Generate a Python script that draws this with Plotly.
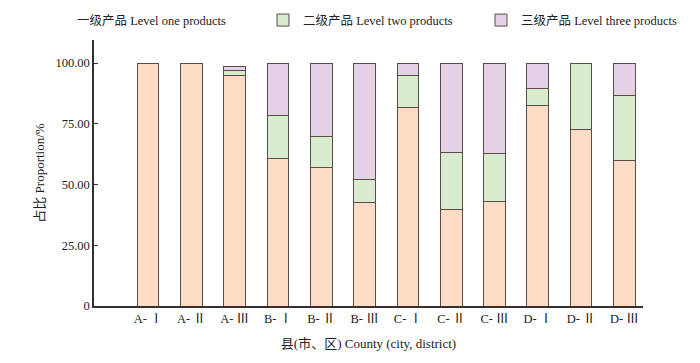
import plotly.graph_objects as go

categories = ["A- Ⅰ", "A- Ⅱ", "A- Ⅲ", "B- Ⅰ", "B- Ⅱ", "B- Ⅲ",
              "C- Ⅰ", "C- Ⅱ", "C- Ⅲ", "D- Ⅰ", "D- Ⅱ", "D- Ⅲ"]
level_one = [100, 100, 94.7, 60.8, 56.9, 42.8, 81.6, 39.8, 42.9, 82.7, 72.7, 59.8]
level_two = [0, 0, 2.4, 17.8, 12.8, 9.1, 13.1, 23.3, 19.9, 7.0, 27.3, 26.9]
level_three = [0, 0, 1.5, 21.4, 30.3, 48.1, 5.3, 36.9, 37.2, 10.3, 0, 13.3]

series_names = ["一级产品 Level one products", "二级产品 Level two products", "三级产品 Level three products"]
tick_vals = [0, 25, 50, 75, 100]
tick_text = ["0", "25.00", "50.00", "75.00", "100.00"]

font_family = "Liberation Serif, Noto Sans CJK SC, serif"
edge = "#5b4c47"
colors = ["#fddcc6", "#d9ebcf", "#e3d2e5"]
legend_ids = ["legend", "legend2", "legend3"]

fig = go.Figure()

# legend-only entry for level one (no visible swatch, as in the reference)
fig.add_trace(go.Bar(
    x=[categories[0]], y=[None], name=series_names[0],
    marker=dict(color="rgba(0,0,0,0)", line=dict(width=0)),
    showlegend=True, legend="legend",
))

values = [level_one, level_two, level_three]
for i, (name, vals) in enumerate(zip(series_names, values)):
    fig.add_trace(go.Bar(
        x=categories, y=[v if v else None for v in vals], name=name,
        marker=dict(color=colors[i], line=dict(color=edge, width=1.0)),
        width=0.5,
        showlegend=(i != 0), legend=legend_ids[i],
    ))

leg_common = dict(orientation="h", xref="container", yref="container",
                  xanchor="left", y=0.985, yanchor="top",
                  font=dict(size=12.5), itemwidth=30, bgcolor="rgba(0,0,0,0)")

fig.update_layout(
    barmode="stack",
    width=700, height=363,
    margin=dict(l=94, r=57, t=40, b=57, autoexpand=False),
    paper_bgcolor="white", plot_bgcolor="white",
    font=dict(family=font_family, size=12, color="#222"),
    legend=dict(x=37 / 700, **leg_common),
    legend2=dict(x=263 / 700, **leg_common),
    legend3=dict(x=481 / 700, **leg_common),
    xaxis=dict(range=[-1.25, 11.43], showline=True, linecolor="#3a2f2c", linewidth=1.5,
               ticks="", showgrid=False, tickfont=dict(size=12.5),
               title=dict(text="县(市、区) County (city, district)", font=dict(size=13), standoff=14)),
    yaxis=dict(range=[0, 109.5], showline=True, linecolor="#3a2f2c", linewidth=1.5,
               tickvals=tick_vals, ticktext=tick_text, ticks="inside", ticklen=4,
               tickcolor="#3a2f2c", showgrid=False, zeroline=False, tickfont=dict(size=12.5),
               title=dict(text="占比 Proportion/%", font=dict(size=13), standoff=8)),
)

fig.write_html("out.html", config={"displayModeBar": False},
               post_script="document.body.style.margin='0';")
